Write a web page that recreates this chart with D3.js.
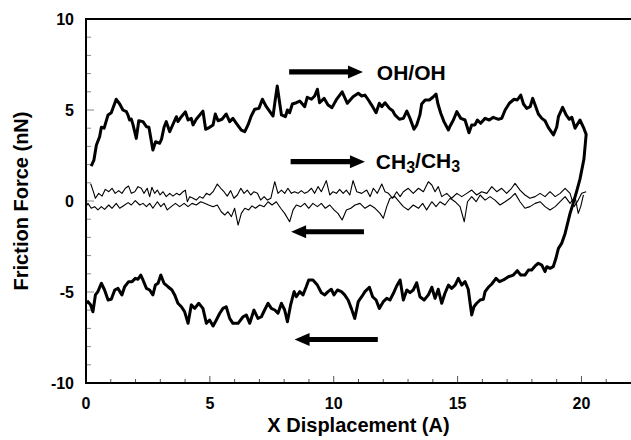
<!DOCTYPE html>
<html><head><meta charset="utf-8">
<script src="https://cdn.jsdelivr.net/npm/d3@7"></script>
<style>
body{margin:0;background:#fff}
svg{display:block}
text{font-family:"Liberation Sans",Arial,Helvetica,sans-serif;font-weight:bold;fill:#000}
</style>
</head><body>
<svg id="c" width="631" height="440"></svg>
<script>
// ---- data ----
const xTickLabels = [0, 5, 10, 15, 20];
const yTickLabels = [10, 5, 0, -5, -10];
const seriesNames = ["OH/OH", "CH3/CH3"];

const ohForward = [[0.21,1.92],[0.32,2.25],[0.42,3.08],[0.55,3.53],[0.62,4.05],[0.73,4.0],[0.89,4.73],[1.02,4.85],[1.22,5.59],[1.36,5.33],[1.49,5.0],[1.63,4.91],[1.7,4.7],[1.76,4.45],[1.83,4.5],[1.9,4.18],[2.03,3.44],[2.13,4.41],[2.3,4.36],[2.44,4.08],[2.54,4.05],[2.7,2.8],[2.81,3.26],[2.97,3.17],[3.05,3.4],[3.15,4.05],[3.24,4.36],[3.38,3.81],[3.48,4.12],[3.65,4.63],[3.71,4.36],[3.85,4.63],[4.01,4.9],[4.12,4.45],[4.25,4.54],[4.32,4.18],[4.45,4.49],[4.72,4.94],[4.83,3.94],[4.99,4.05],[5.13,4.18],[5.22,4.78],[5.33,4.41],[5.49,4.49],[5.66,4.78],[5.8,4.36],[5.93,4.54],[6.07,4.27],[6.27,3.9],[6.41,3.81],[6.54,4.18],[6.67,4.67],[6.81,5.04],[6.98,5.09],[7.12,5.59],[7.28,5.18],[7.55,4.67],[7.62,5.37],[7.72,6.32],[7.82,5.37],[7.89,4.73],[8.05,4.63],[8.13,5.0],[8.22,4.85],[8.33,5.33],[8.49,5.4],[8.63,5.49],[8.83,5.18],[8.93,5.7],[9.1,5.59],[9.23,5.77],[9.34,6.14],[9.43,5.4],[9.61,5.64],[9.77,5.27],[9.93,5.13],[10.1,5.55],[10.34,6.0],[10.55,5.37],[10.78,5.73],[10.99,5.92],[11.13,5.77],[11.26,5.82],[11.4,5.55],[11.53,5.27],[11.71,4.85],[11.84,5.37],[11.94,5.18],[12.07,5.4],[12.25,5.09],[12.38,4.96],[12.47,4.73],[12.65,4.49],[12.81,4.54],[12.95,4.94],[13.08,4.54],[13.24,3.94],[13.35,4.18],[13.48,4.73],[13.55,5.33],[13.69,5.55],[13.86,5.55],[14.0,5.7],[14.13,5.88],[14.2,5.37],[14.32,4.82],[14.45,4.36],[14.63,3.9],[14.7,4.12],[14.83,4.45],[14.97,4.91],[15.13,4.54],[15.3,4.45],[15.46,3.75],[15.57,4.18],[15.7,4.18],[15.8,4.45],[15.93,4.27],[16.11,4.54],[16.28,4.45],[16.44,4.6],[16.65,4.49],[16.78,4.54],[16.92,5.0],[17.09,5.37],[17.28,5.59],[17.41,5.55],[17.55,5.82],[17.66,5.33],[17.79,5.09],[17.93,5.18],[18.03,5.64],[18.13,5.27],[18.26,4.78],[18.4,4.54],[18.53,4.41],[18.66,4.05],[18.87,3.63],[19.0,4.05],[19.07,4.63],[19.24,5.15],[19.38,4.73],[19.51,4.49],[19.61,4.6],[19.74,4.0],[19.94,4.45],[20.08,4.05],[20.19,3.66]];

const ohReturn = [[20.19,3.66],[20.1,2.3],[19.94,1.2],[19.8,0.5],[19.65,-0.2],[19.54,-0.68],[19.34,-1.78],[19.2,-2.33],[19.07,-2.6],[18.97,-3.15],[18.86,-3.61],[18.73,-3.7],[18.6,-3.61],[18.53,-3.88],[18.4,-3.52],[18.26,-3.42],[18.13,-3.57],[17.99,-3.79],[17.86,-3.79],[17.72,-4.07],[17.55,-4.07],[17.41,-3.83],[17.25,-4.07],[17.05,-4.16],[16.85,-4.34],[16.69,-4.43],[16.55,-4.25],[16.38,-4.56],[16.24,-4.74],[16.11,-4.98],[16.04,-5.4],[15.91,-5.44],[15.77,-5.62],[15.66,-5.81],[15.57,-6.26],[15.43,-4.85],[15.3,-4.43],[15.17,-4.62],[15.03,-4.25],[14.9,-4.62],[14.76,-4.8],[14.63,-4.62],[14.49,-5.07],[14.36,-5.62],[14.22,-4.85],[14.09,-5.35],[13.96,-4.74],[13.82,-5.16],[13.65,-5.44],[13.48,-5.26],[13.35,-4.49],[13.21,-4.89],[13.08,-5.04],[12.95,-4.89],[12.81,-5.44],[12.68,-4.34],[12.54,-4.67],[12.41,-5.07],[12.27,-5.44],[12.14,-5.35],[12.0,-5.53],[11.84,-5.9],[11.71,-5.44],[11.57,-5.26],[11.44,-4.74],[11.26,-4.98],[11.13,-5.26],[10.99,-5.53],[10.85,-6.45],[10.71,-5.9],[10.58,-5.44],[10.44,-5.16],[10.31,-4.98],[10.15,-4.89],[10.01,-5.16],[9.9,-4.85],[9.77,-4.98],[9.64,-5.16],[9.5,-5.04],[9.34,-4.62],[9.16,-4.34],[8.99,-4.34],[8.89,-4.71],[8.76,-5.16],[8.63,-4.98],[8.49,-5.26],[8.4,-4.98],[8.26,-5.71],[8.13,-6.63],[8.02,-5.99],[7.89,-5.62],[7.75,-6.17],[7.62,-5.99],[7.48,-5.9],[7.35,-5.62],[7.21,-5.99],[7.08,-6.36],[6.94,-6.45],[6.78,-5.99],[6.61,-6.72],[6.47,-6.26],[6.34,-6.36],[6.14,-6.72],[5.93,-6.72],[5.8,-6.45],[5.66,-5.81],[5.53,-5.9],[5.4,-6.17],[5.26,-6.54],[5.13,-6.87],[4.99,-6.54],[4.86,-6.72],[4.72,-5.9],[4.55,-5.62],[4.39,-5.9],[4.25,-5.71],[4.12,-6.72],[3.98,-6.08],[3.85,-5.81],[3.71,-5.62],[3.58,-5.16],[3.47,-4.89],[3.31,-4.71],[3.15,-4.52],[3.02,-4.07],[2.91,-4.52],[2.8,-4.62],[2.7,-5.16],[2.57,-4.89],[2.44,-4.8],[2.3,-4.34],[2.21,-4.07],[2.1,-4.3],[1.99,-4.25],[1.86,-4.43],[1.72,-4.43],[1.56,-4.71],[1.45,-5.16],[1.29,-4.8],[1.16,-4.89],[1.02,-5.4],[0.89,-5.44],[0.75,-4.89],[0.62,-4.52],[0.48,-4.98],[0.38,-5.16],[0.28,-6.08],[0.19,-5.71],[0.08,-5.53],[0.01,-5.6]];

const ch3Forward = [[0.19,0.95],[0.3,0.5],[0.38,0.15],[0.51,0.42],[0.65,0.27],[0.78,0.64],[0.92,0.51],[1.05,0.7],[1.18,0.42],[1.32,0.57],[1.45,0.42],[1.59,0.7],[1.72,0.82],[1.83,0.42],[1.97,0.51],[2.1,0.79],[2.23,0.7],[2.34,0.42],[2.47,0.7],[2.57,0.24],[2.66,0.75],[2.77,0.42],[2.88,0.6],[2.99,0.33],[3.11,0.51],[3.24,0.24],[3.38,0.42],[3.51,0.27],[3.65,0.42],[3.78,0.33],[3.92,0.51],[4.01,0.6],[4.09,-0.04],[4.19,0.24],[4.32,0.15],[4.45,0.05],[4.59,0.24],[4.72,0.15],[4.86,0.42],[4.99,0.33],[5.13,0.51],[5.3,0.93],[5.44,0.7],[5.57,0.51],[5.7,0.27],[5.84,0.57],[5.97,0.15],[6.11,0.33],[6.25,0.7],[6.38,0.42],[6.51,0.6],[6.65,0.33],[6.78,0.51],[6.92,0.42],[7.05,0.05],[7.19,0.24],[7.32,0.05],[7.46,0.15],[7.62,1.06],[7.75,0.42],[7.89,0.6],[8.02,0.42],[8.15,0.7],[8.29,0.42],[8.42,0.51],[8.56,0.42],[8.69,0.57],[8.83,0.42],[8.96,0.51],[9.1,0.7],[9.23,0.42],[9.37,0.79],[9.5,0.51],[9.7,1.12],[9.84,0.33],[9.97,0.51],[10.11,0.42],[10.24,0.64],[10.38,0.42],[10.51,0.6],[10.65,0.33],[10.78,1.12],[10.93,0.51],[11.13,0.42],[11.33,0.6],[11.47,0.24],[11.6,0.7],[11.76,0.42],[11.94,0.93],[12.07,0.51],[12.21,0.42],[12.38,0.15],[12.54,0.51],[12.68,0.24],[12.81,0.51],[13.01,0.7],[13.21,0.42],[13.42,0.7],[13.62,0.51],[13.82,1.06],[13.96,0.88],[14.09,0.51],[14.22,0.79],[14.36,0.24],[14.56,0.42],[14.76,0.15],[14.97,0.42],[15.17,0.24],[15.37,0.42],[15.57,0.6],[15.77,0.33],[15.97,0.51],[16.18,0.42],[16.38,0.79],[16.58,0.51],[16.78,0.7],[16.98,0.42],[17.18,0.7],[17.32,0.97],[17.52,0.6],[17.72,0.33],[17.92,0.15],[18.13,0.24],[18.33,0.42],[18.53,0.24],[18.73,0.51],[18.94,0.24],[19.14,0.42],[19.34,0.7],[19.54,0.42],[19.7,-0.31],[19.87,0.05],[20.01,0.42],[20.19,0.51]];

const ch3Return = [[0.0,-0.3],[0.08,-0.13],[0.21,-0.4],[0.35,-0.31],[0.48,-0.49],[0.62,-0.31],[0.75,-0.46],[0.92,-0.22],[1.05,-0.4],[1.22,-0.13],[1.36,-0.4],[1.56,-0.22],[1.7,-0.09],[1.83,-0.22],[1.99,0.02],[2.17,-0.22],[2.3,-0.13],[2.44,-0.31],[2.57,-0.13],[2.7,-0.4],[2.88,-0.04],[3.02,-0.31],[3.15,-0.13],[3.28,-0.49],[3.44,-0.31],[3.61,-0.13],[3.78,-0.31],[3.96,-0.13],[4.12,-0.31],[4.28,-0.13],[4.45,-0.22],[4.63,-0.04],[4.79,-0.13],[4.95,-0.22],[5.13,-0.31],[5.3,-0.22],[5.46,-0.59],[5.6,-0.77],[5.73,-0.59],[5.87,-0.86],[6.0,-0.4],[6.14,-1.32],[6.27,-0.68],[6.41,-0.4],[6.57,-0.49],[6.7,-0.27],[6.84,-0.4],[7.01,-0.22],[7.19,-0.31],[7.35,-0.04],[7.51,-0.22],[7.68,-0.04],[7.86,-0.4],[8.02,-0.68],[8.22,-1.14],[8.36,-0.49],[8.49,-0.22],[8.67,-0.31],[8.83,-0.13],[8.99,-0.4],[9.16,-0.13],[9.34,-0.31],[9.5,-0.13],[9.66,-0.4],[9.84,-0.22],[10.01,-0.49],[10.17,-0.68],[10.34,-1.04],[10.51,-0.49],[10.69,-0.4],[10.86,-0.22],[11.06,-0.13],[11.26,-0.4],[11.47,-0.22],[11.67,-0.4],[11.87,-0.68],[12.0,-0.95],[12.14,-0.31],[12.27,0.15],[12.47,0.24],[12.68,-0.1],[12.81,-0.31],[13.01,-0.49],[13.21,-0.22],[13.42,-0.4],[13.59,-0.13],[13.75,-0.49],[13.96,-0.04],[14.13,-0.31],[14.29,-0.04],[14.49,-0.22],[14.7,0.15],[14.9,-0.04],[15.1,-0.31],[15.27,-1.14],[15.4,-0.04],[15.57,0.24],[15.75,-0.04],[15.91,0.33],[16.11,0.05],[16.31,0.24],[16.51,0.05],[16.71,-0.22],[16.92,-0.04],[17.12,0.15],[17.32,0.42],[17.52,-0.04],[17.72,-0.4],[17.92,-0.31],[18.13,-0.13],[18.33,-0.04],[18.53,-0.31],[18.73,-0.49],[18.94,-0.31],[19.14,-0.04],[19.34,0.24],[19.54,-0.13],[19.74,0.24],[19.87,-0.68],[19.97,-0.31],[20.08,0.33]];

// ---- layout ----
const svg = d3.select("#c");
const L = 86, R = 631, T = 19, B = 383;
const x = d3.scaleLinear().domain([0, 22]).range([L, R]);
const y = d3.scaleLinear().domain([-10, 10]).range([B, T]);

// ticks (inward)
const g = svg.append("g");
const yMinor = d3.range(-9, 10, 1).filter(v => v % 5 !== 0);
g.selectAll(".ym").data(yMinor).join("line")
  .attr("x1", L).attr("x2", L + 5)
  .attr("y1", d => y(d)).attr("y2", d => y(d))
  .attr("stroke", "#888").attr("stroke-width", 1);
g.selectAll(".yM").data([-5, 0, 5]).join("line")
  .attr("x1", L).attr("x2", L + 8)
  .attr("y1", d => y(d)).attr("y2", d => y(d))
  .attr("stroke", "#888").attr("stroke-width", 1);
const xMinor = d3.range(1, 22, 1).filter(v => v % 5 !== 0);
g.selectAll(".xm").data(xMinor).join("line")
  .attr("x1", d => x(d)).attr("x2", d => x(d))
  .attr("y1", B).attr("y2", B - 4)
  .attr("stroke", "#555").attr("stroke-width", 1);
g.selectAll(".xM").data([5, 10, 15, 20]).join("line")
  .attr("x1", d => x(d)).attr("x2", d => x(d))
  .attr("y1", B).attr("y2", B - 7)
  .attr("stroke", "#555").attr("stroke-width", 1);

// frame
svg.append("rect").attr("x", L).attr("y", T)
  .attr("width", R + 3 - L).attr("height", B - T)
  .attr("fill", "none").attr("stroke", "#000").attr("stroke-width", 2);

// tick labels
svg.selectAll(".yl").data(yTickLabels).join("text")
  .attr("x", 74).attr("y", d => y(d)).attr("dy", "0.36em")
  .attr("text-anchor", "end").attr("font-size", 16).text(d => d);
svg.selectAll(".xl").data(xTickLabels).join("text")
  .attr("x", d => x(d)).attr("y", 409)
  .attr("text-anchor", "middle").attr("font-size", 16).text(d => d);

// axis titles
svg.append("text").attr("x", (L + R) / 2).attr("y", 432)
  .attr("text-anchor", "middle").attr("font-size", 20).text("X Displacement (A)");
svg.append("text").attr("transform", `translate(28,${y(0)}) rotate(-90)`)
  .attr("text-anchor", "middle").attr("font-size", 20).text("Friction Force (nN)");

// lines
const line = d3.line().x(d => x(d[0])).y(d => y(d[1]));
svg.append("path").datum(ch3Forward).attr("d", line)
  .attr("fill", "none").attr("stroke", "#000").attr("stroke-width", 1.1).attr("stroke-linejoin", "round");
svg.append("path").datum(ch3Return).attr("d", line)
  .attr("fill", "none").attr("stroke", "#000").attr("stroke-width", 1.1).attr("stroke-linejoin", "round");
svg.append("path").datum(ohForward.concat(ohReturn.slice(1))).attr("d", line)
  .attr("fill", "none").attr("stroke", "#000").attr("stroke-width", 3).attr("stroke-linejoin", "round");

// arrows
function arrow(x0, x1, yv) {
  const px0 = x(x0), px1 = x(x1), py = y(yv);
  const dir = Math.sign(px1 - px0);
  const hl = 15, hh = 6.5, sw = 2.6;
  const hb = px1 - dir * hl;
  svg.append("path")
    .attr("d", `M${px0},${py - sw}L${hb},${py - sw}L${hb},${py - hh}L${px1},${py}L${hb},${py + hh}L${hb},${py + sw}L${px0},${py + sw}Z`)
    .attr("fill", "#000");
}
arrow(8.2, 11.18, 7.09);
arrow(8.26, 11.26, 2.16);
arrow(11.22, 8.28, -1.69);
arrow(11.78, 8.42, -7.61);

// labels
svg.append("text").attr("x", x(11.74)).attr("y", y(7.09)).attr("dy", "0.36em")
  .attr("font-size", 21).text(seriesNames[0]);
const t2 = svg.append("text").attr("x", x(11.7)).attr("y", y(2.16)).attr("dy", "0.36em")
  .attr("font-size", 21);
t2.append("tspan").text("CH");
t2.append("tspan").attr("font-size", 16).attr("dy", "0.25em").text("3");
t2.append("tspan").attr("dy", "-0.25em").text("/CH");
t2.append("tspan").attr("font-size", 16).attr("dy", "0.25em").text("3");
</script>
</body></html>
